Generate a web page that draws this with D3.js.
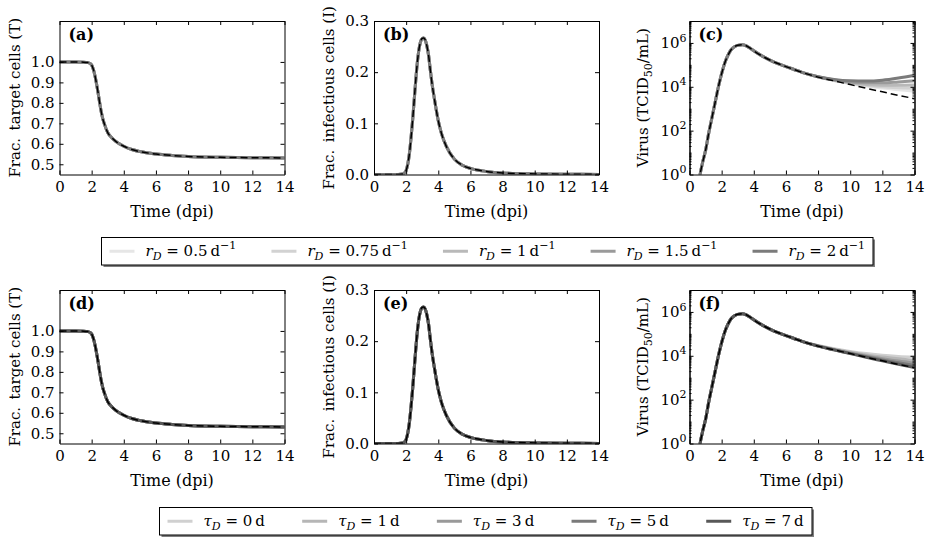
<!DOCTYPE html>
<html lang="en">
<head>
  <meta charset="UTF-8">
  <title>Target-cell model: r_D and tau_D sweeps</title>
  <style>
    *{margin:0;padding:0;box-sizing:border-box}
    body{background:#fff;width:929px;height:541px;overflow:hidden}
    svg{display:block;font-family:"DejaVu Serif";fill:#000}
    .tick text{font-family:"DejaVu Serif";font-size:15px;fill:#000}
    .tick line,.domain{stroke:#000;stroke-width:1}
    .ax-label{font-size:16px}
    .ax-label.y{font-size:15px}
    .panel-tag{font-size:16px;font-weight:bold}
    .legend text{font-size:15px;white-space:pre}
  </style>
  <script src="https://d3js.org/d3.v7.min.js"></script>
</head>
<body>
  <svg id="chart" width="929" height="541"></svg>

  <script>
    /* ---------- DATA ---------- */
    // fraction of target cells
    const timeT      = [0, 1, 1.5, 1.75, 1.9, 2.0, 2.1, 2.2, 2.3, 2.4, 2.5, 2.6, 2.7, 2.8, 3.0, 3.25, 3.5, 4.0, 4.5, 5.0, 6.0, 7.0, 8.0, 10.0, 12.0, 14.0];
    const targetFrac = [1.0, 1.0, 0.999, 0.997, 0.993, 0.985, 0.965, 0.935, 0.895, 0.85, 0.80, 0.755, 0.72, 0.695, 0.655, 0.63, 0.612, 0.588, 0.572, 0.562, 0.55, 0.543, 0.538, 0.534, 0.532, 0.531];

    // fraction of infectious cells
    const timeI      = [0, 1.5, 1.8, 1.9, 2.0, 2.1, 2.2, 2.3, 2.4, 2.5, 2.6, 2.7, 2.8, 2.9, 3.0, 3.1, 3.2, 3.3, 3.4, 3.5, 3.6, 3.8, 4.0, 4.2, 4.5, 5.0, 5.5, 6.0, 7.0, 8.0, 10.0, 12.0, 14.0];
    const infectFrac = [0, 0, 0.001, 0.003, 0.008, 0.02, 0.04, 0.07, 0.105, 0.145, 0.185, 0.22, 0.245, 0.26, 0.266, 0.267, 0.262, 0.25, 0.232, 0.205, 0.18, 0.14, 0.105, 0.08, 0.055, 0.03, 0.018, 0.012, 0.006, 0.003, 0.0012, 0.0005, 0.0002];

    // virus titre, log10 TCID50/mL (dashed reference run)
    const timeV      = [0.5, 0.66, 0.8, 1.0, 1.2, 1.4, 1.6, 1.8, 2.0, 2.2, 2.4, 2.6, 2.8, 3.0, 3.3, 3.5, 3.75, 4.0, 4.5, 5.0, 5.5, 6.0, 6.5, 7.0, 8, 9, 10, 11, 12, 13, 14];
    const virusLog10 = [-0.9, 0, 0.5, 1.1, 1.9, 2.6, 3.3, 4.0, 4.6, 5.1, 5.45, 5.7, 5.83, 5.89, 5.92, 5.88, 5.77, 5.64, 5.41, 5.22, 5.06, 4.92, 4.79, 4.66, 4.44, 4.27, 4.1, 3.93, 3.77, 3.61, 3.46];

    // late-phase virus (log10) where the sweeps separate
    const lateTimes = [8, 9, 10, 11, 12, 13, 14];
    const virusLateRD = [
      [4.45, 4.29, 4.15, 4.03, 3.94, 3.86, 3.80],
      [4.45, 4.29, 4.16, 4.06, 4.00, 3.96, 3.93],
      [4.45, 4.30, 4.18, 4.10, 4.07, 4.07, 4.08],
      [4.46, 4.31, 4.22, 4.18, 4.18, 4.22, 4.27],
      [4.46, 4.33, 4.27, 4.26, 4.30, 4.40, 4.53]
    ];
    const virusLateTauD = [
      [4.47, 4.32, 4.20, 4.10, 4.02, 3.97, 3.94],
      [4.46, 4.30, 4.16, 4.04, 3.94, 3.86, 3.79],
      [4.45, 4.28, 4.13, 3.99, 3.87, 3.76, 3.67],
      [4.44, 4.27, 4.11, 3.96, 3.81, 3.68, 3.56],
      [4.44, 4.27, 4.10, 3.93, 3.77, 3.61, 3.46]
    ];

    const rDValues   = ['0.5', '0.75', '1', '1.5', '2'];
    const tauDValues = ['0', '1', '3', '5', '7'];
    const rDGreys    = ['#e6e6e6', '#d2d2d2', '#b9b9b9', '#9a9a9a', '#7b7b7b'];
    const tauDGreys  = ['#d0d0d0', '#b6b6b6', '#999999', '#7a7a7a', '#585858'];

    const xTicks     = [0, 2, 4, 6, 8, 10, 12, 14];
    const tTicks     = [0.5, 0.6, 0.7, 0.8, 0.9, 1.0];
    const iTicks     = [0, 0.1, 0.2, 0.3];
    const vMajor     = [0, 2, 4, 6];

    /* ---------- LAYOUT ---------- */
    const svg = d3.select('#chart');
    const W = 225, H = 153.5;
    const colX = [59.5, 374, 689.5], rowY = [21, 290];
    const sweeps = [
      {greys: rDGreys, late: virusLateRD},
      {greys: tauDGreys, late: virusLateTauD}
    ];
    const panelDefs = [
      {tag:'(a)', row:0, col:0, kind:'T', sweep:0},
      {tag:'(b)', row:0, col:1, kind:'I', sweep:0},
      {tag:'(c)', row:0, col:2, kind:'V', sweep:0},
      {tag:'(d)', row:1, col:0, kind:'T', sweep:1},
      {tag:'(e)', row:1, col:1, kind:'I', sweep:1},
      {tag:'(f)', row:1, col:2, kind:'V', sweep:1}
    ];

    /* ---------- PANELS ---------- */
    function drawPanel(def, idx){
      const g = svg.append('g').attr('transform', `translate(${colX[def.col]},${rowY[def.row]})`);
      const sw = sweeps[def.sweep];
      const x = d3.scaleLinear().domain([0, 14]).range([0, W]);
      let y, base, variants;

      if(def.kind === 'T'){
        y = d3.scaleLinear().domain([0.45, 1.2]).range([H, 0]);
        base = timeT.map((t, i) => [t, targetFrac[i]]);
        variants = sw.greys.map(() => base);
      }else if(def.kind === 'I'){
        y = d3.scaleLinear().domain([0, 0.3]).range([H, 0]);
        base = timeI.map((t, i) => [t, infectFrac[i]]);
        variants = sw.greys.map(() => base);
      }else{
        y = d3.scaleLog().domain([1, 1e7]).range([H, 0]);
        base = timeV.map((t, i) => [t, Math.pow(10, virusLog10[i])]);
        const early = base.filter(d => d[0] < lateTimes[0]);
        variants = sw.late.map(row => early.concat(lateTimes.map((t, j) => [t, Math.pow(10, row[j])])));
      }

      const clipId = 'clip' + idx;
      g.append('clipPath').attr('id', clipId).append('rect').attr('width', W).attr('height', H);

      const line = d3.line().x(d => x(d[0])).y(d => y(d[1])).curve(d3.curveMonotoneX);
      const plot = g.append('g').attr('clip-path', `url(#${clipId})`);
      variants.forEach((pts, i) => {
        plot.append('path').datum(pts).attr('d', line)
            .attr('fill', 'none').attr('stroke', sw.greys[i]).attr('stroke-width', 3);
      });
      plot.append('path').datum(base).attr('d', line)
          .attr('fill', 'none').attr('stroke', '#000').attr('stroke-width', 1.5)
          .attr('stroke-dasharray', '7,4');

      /* ---- axes (ticks inside, all four sides) ---- */
      g.append('g').attr('transform', `translate(0,${H})`)
       .call(d3.axisBottom(x).tickValues(xTicks).tickSizeInner(-4).tickSizeOuter(0).tickPadding(7));
      g.append('g')
       .call(d3.axisTop(x).tickValues(xTicks).tickSizeInner(-4).tickSizeOuter(0).tickFormat(''));

      if(def.kind === 'V'){
        const majors = vMajor.map(p => Math.pow(10, p));
        const minors = [];
        for(let k = 0; k < 7; k++) for(let m = 1; m < 10; m++){
          if(m === 1 && vMajor.includes(k)) continue;
          minors.push(m * Math.pow(10, k));
        }
        const left = g.append('g')
         .call(d3.axisLeft(y).tickValues(majors).tickSizeInner(-4).tickSizeOuter(0).tickPadding(3).tickFormat(''));
        left.selectAll('.tick text').each(function(d){
          const t = d3.select(this);
          t.append('tspan').text('10');
          t.append('tspan').attr('font-size', 11).attr('dy', '-0.6em').text(Math.round(Math.log10(d)));
        });
        g.append('g').call(d3.axisLeft(y).tickValues(minors).tickSizeInner(-2).tickSizeOuter(0).tickFormat(''));
        g.append('g').attr('transform', `translate(${W},0)`)
         .call(d3.axisRight(y).tickValues(majors).tickSizeInner(-4).tickSizeOuter(0).tickFormat(''));
        g.append('g').attr('transform', `translate(${W},0)`)
         .call(d3.axisRight(y).tickValues(minors).tickSizeInner(-2).tickSizeOuter(0).tickFormat(''));
      }else{
        const yt = def.kind === 'T' ? tTicks : iTicks;
        g.append('g')
         .call(d3.axisLeft(y).tickValues(yt).tickSizeInner(-4).tickSizeOuter(0).tickPadding(5).tickFormat(d3.format('.1f')));
        g.append('g').attr('transform', `translate(${W},0)`)
         .call(d3.axisRight(y).tickValues(yt).tickSizeInner(-4).tickSizeOuter(0).tickFormat(''));
      }

      /* ---- labels ---- */
      g.append('text').attr('class', 'ax-label')
       .attr('x', W / 2).attr('y', H + 42).attr('text-anchor', 'middle')
       .text('Time (dpi)');

      const yl = g.append('text').attr('class', 'ax-label y')
       .attr('transform', `translate(${def.kind === 'V' ? -42 : -40},${H / 2}) rotate(-90)`)
       .attr('text-anchor', 'middle');
      if(def.kind === 'T') yl.text('Frac.\u2002target cells (T)');
      else if(def.kind === 'I') yl.text('Frac.\u2002infectious cells (I)');
      else{
        yl.append('tspan').text('Virus (TCID');
        yl.append('tspan').attr('font-size', 11).attr('dy', 4).text('50');
        yl.append('tspan').attr('dy', -4).text('/mL)');
      }

      g.append('text').attr('class', 'panel-tag').attr('x', 9).attr('y', 19).text(def.tag);
    }

    panelDefs.forEach(drawPanel);

    /* ---------- LEGENDS ---------- */
    function legendLabel(sel, sym, val, unit, exp){
      sel.append('tspan').attr('font-style', 'italic').text(sym);
      sel.append('tspan').attr('font-style', 'italic').attr('font-size', 11).attr('dy', 4).text('D');
      sel.append('tspan').attr('dy', -4).text('\u00a0=\u00a0' + val + '\u2009' + unit);
      if(exp) sel.append('tspan').attr('font-size', 11).attr('dy', -7).text(exp);
    }

    function drawLegend(box, values, greys, sym, unit, exp){
      const g = svg.append('g').attr('class', 'legend');
      const bw = box.right - box.left, bh = box.bottom - box.top, cy = (box.top + box.bottom) / 2;
      g.append('rect').attr('x', box.left + 2).attr('y', box.top + 2).attr('width', bw).attr('height', bh)
       .attr('fill', '#000').attr('opacity', 0.5);
      g.append('rect').attr('x', box.left).attr('y', box.top).attr('width', bw).attr('height', bh)
       .attr('fill', '#fff').attr('stroke', '#000').attr('stroke-width', 1);

      const pad = 8, handle = 25, gap = 11;
      const items = values.map((v, i) => {
        const it = g.append('g');
        it.append('line').attr('x1', 0).attr('x2', handle).attr('y1', cy).attr('y2', cy)
          .attr('stroke', greys[i]).attr('stroke-width', 3);
        const txt = it.append('text').attr('x', handle + gap).attr('y', cy).attr('dy', '0.3em');
        legendLabel(txt, sym, v, unit, exp);
        return {it, w: txt.node().getBBox().width};
      });
      const used = d3.sum(items, d => d.w) + items.length * (handle + gap);
      const colSpace = (bw - 2 * pad - used) / (items.length - 1);
      let cx = box.left + pad;
      items.forEach(d => {
        d.it.attr('transform', `translate(${cx},0)`);
        cx += handle + gap + d.w + colSpace;
      });
    }

    drawLegend({left:101.5, right:873, top:237.5, bottom:265}, rDValues, rDGreys, 'r', 'd', '\u22121');
    drawLegend({left:159.5, right:812, top:507.5, bottom:535}, tauDValues, tauDGreys, '\u03c4', 'd', null);
  </script>
</body>
</html>
